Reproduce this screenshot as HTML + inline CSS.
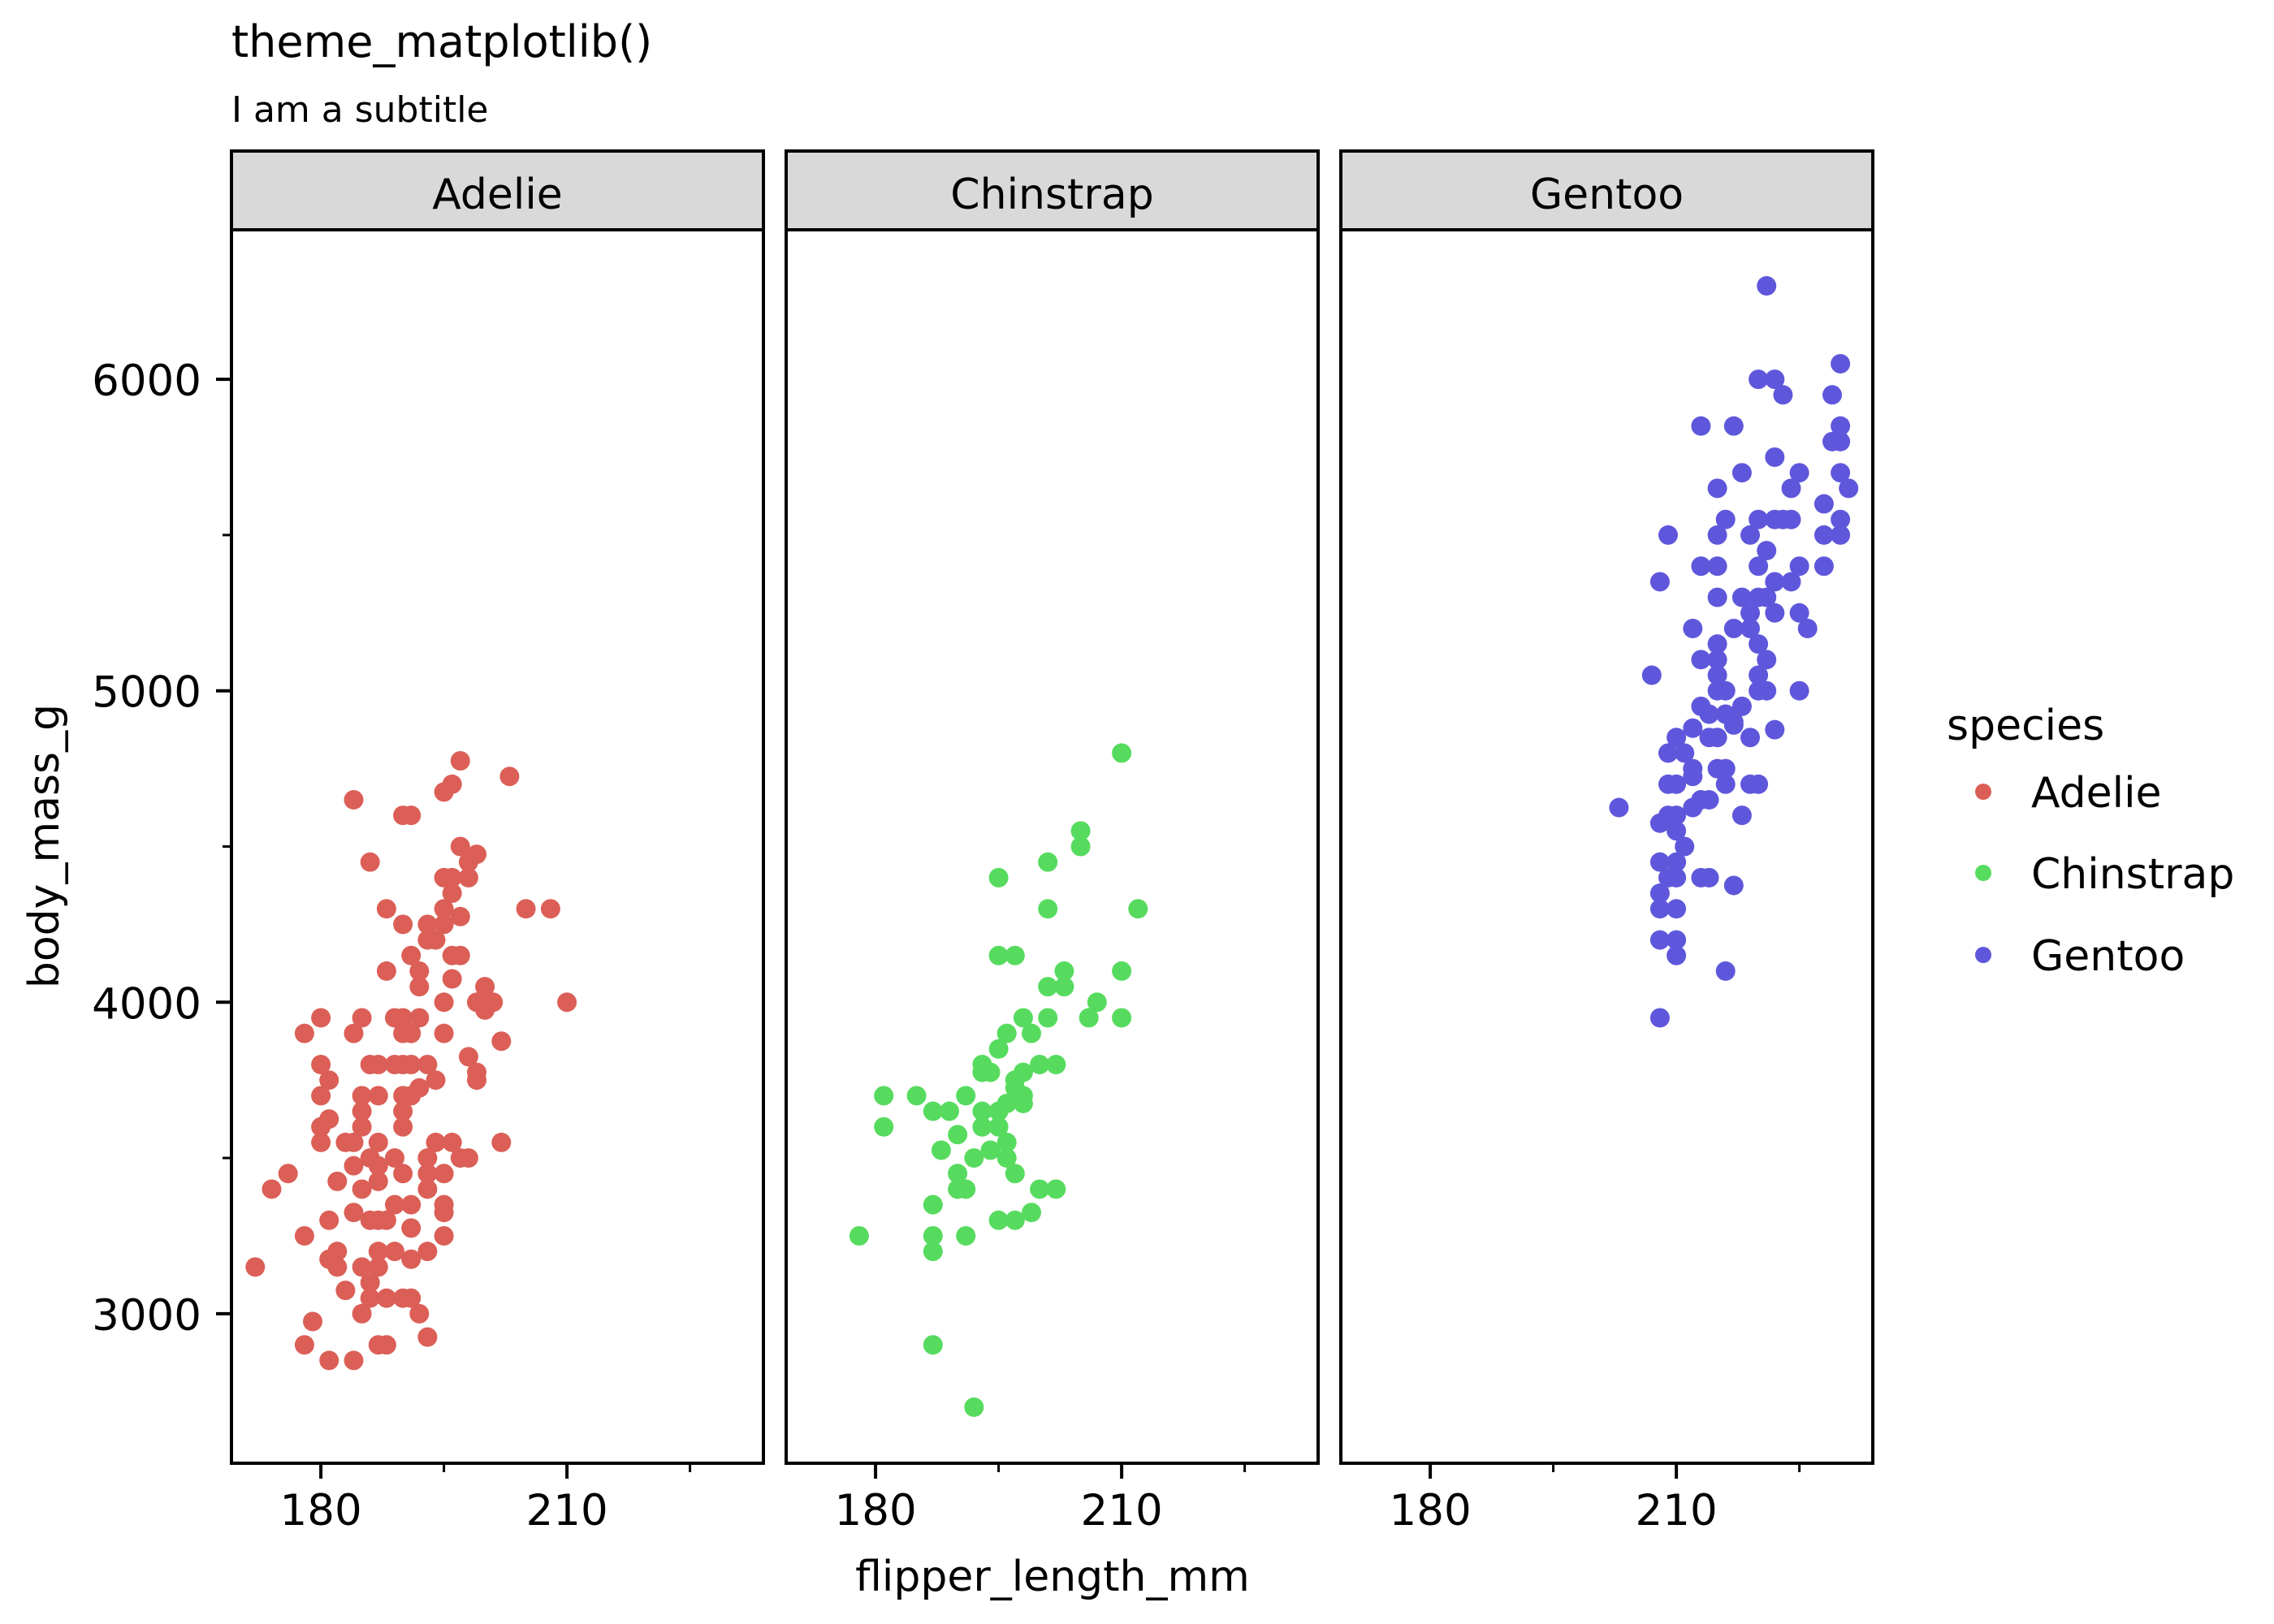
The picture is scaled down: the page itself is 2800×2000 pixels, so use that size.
<!DOCTYPE html>
<html><head><meta charset="utf-8">
<style>
html,body{margin:0;padding:0;background:#fff;}
svg{display:block;font-family:"DejaVu Sans","Liberation Sans",sans-serif;}
</style></head>
<body>
<svg id="chart" width="2800" height="2000" viewBox="0 0 2800 2000" xmlns="http://www.w3.org/2000/svg">
<rect width="2800" height="2000" fill="#fff"/>
<text x="285" y="70" font-size="54">theme_matplotlib()</text>
<text x="285" y="150" font-size="44">I am a subtitle</text>
<text transform="translate(72,1042) rotate(-90)" text-anchor="middle" font-size="52">body_mass_g</text>
<text x="1296" y="1959" text-anchor="middle" font-size="52">flipper_length_mm</text>
<g id="panels"></g>
<g>
<text x="2397" y="911" font-size="52">species</text>
<circle cx="2442" cy="975" r="10" fill="#db5f57"/>
<text x="2501" y="994" font-size="52">Adelie</text>
<circle cx="2442" cy="1075" r="10" fill="#57db5f"/>
<text x="2501" y="1094" font-size="52">Chinstrap</text>
<circle cx="2442" cy="1176" r="10" fill="#5f57db"/>
<text x="2501" y="1195" font-size="52">Gentoo</text>
</g>
</svg>
<script>
const speciesNames = ["Adelie","Chinstrap","Gentoo"];
const speciesColors = ["#db5f57","#57db5f","#5f57db"];
const xTicks = [180, 210];
const xMinorTicks = [195, 225];
const yTicks = [3000, 4000, 5000, 6000];
const yMinorTicks = [3500, 4500, 5500];
const adelieFlipper = [197,203,196,195,184,190,191,197,199,198,186,195,196,198,196,195,188,205,208,197,190,193,195,193,194,191,196,197,188,192,196,192,200,195,199,200,201,210,200,180,185,189,190,192,178,184,190,191,195,202,198,180,186,187,189,190,191,193,199,181,194,199,180,185,187,190,191,192,185,190,181,180,185,190,180,183,184,187,194,196,202,189,186,193,197,198,184,187,176,190,193,195,174,182,185,187,193,189,191,195,184,195,181,186,187,188,191,178,195,182,187,189,193,172,181,182,185,187,191,186,183,186,188,190,191,185,192,179,178,187,188,193,181,184];
const adelieMass = [4775,4725,4700,4675,4650,4600,4600,4500,4475,4450,4450,4400,4400,4400,4350,4300,4300,4300,4300,4275,4250,4250,4250,4200,4200,4150,4150,4150,4100,4100,4075,4050,4050,4000,4000,4000,4000,4000,3975,3950,3950,3950,3950,3950,3900,3900,3900,3900,3900,3875,3825,3800,3800,3800,3800,3800,3800,3800,3775,3750,3750,3750,3700,3700,3700,3700,3700,3725,3650,3650,3625,3600,3600,3600,3550,3550,3550,3550,3550,3550,3550,3500,3500,3500,3500,3500,3475,3475,3450,3450,3450,3450,3400,3425,3400,3425,3400,3350,3350,3350,3325,3325,3300,3300,3300,3300,3275,3250,3250,3200,3200,3200,3200,3150,3175,3150,3150,3150,3175,3100,3075,3050,3050,3050,3050,3000,3000,2975,2900,2900,2900,2925,2850,2850];
const chinstrapFlipper = [210,205,205,201,195,201,212,195,197,203,210,201,203,207,198,201,206,210,196,199,195,193,200,202,193,194,198,197,197,198,198,196,181,185,191,187,189,193,195,181,193,195,190,196,188,194,192,196,190,197,190,191,200,202,187,195,197,199,178,187,191,187,187,192];
const chinstrapMass = [4800,4550,4500,4450,4400,4300,4300,4150,4150,4100,4100,4050,4050,4000,3950,3950,3950,3950,3900,3900,3850,3800,3800,3800,3775,3775,3775,3750,3725,3700,3675,3675,3700,3700,3700,3650,3650,3650,3650,3600,3600,3600,3575,3550,3525,3525,3500,3500,3450,3450,3400,3400,3400,3400,3350,3300,3300,3325,3250,3250,3250,3200,2900,2700];
const gentooFlipper = [221,230,220,222,223,229,213,217,230,229,230,222,218,225,230,215,224,231,228,216,220,222,223,224,230,209,215,219,228,230,221,213,215,220,225,228,208,222,224,215,218,220,221,219,222,225,226,212,217,219,215,220,213,215,221,207,215,220,215,216,220,221,225,213,214,218,216,217,217,212,210,214,215,219,222,209,211,212,215,216,212,209,210,216,219,220,213,214,212,203,209,210,218,208,210,211,208,210,209,210,213,214,217,208,208,210,208,210,210,216,208];
const gentooMass = [6300,6050,6000,6000,5950,5950,5850,5850,5850,5800,5800,5750,5700,5700,5700,5650,5650,5650,5600,5550,5550,5550,5550,5550,5550,5500,5500,5500,5500,5500,5450,5400,5400,5400,5400,5400,5350,5350,5350,5300,5300,5300,5300,5250,5250,5250,5200,5200,5200,5200,5150,5150,5100,5100,5100,5050,5050,5050,5000,5000,5000,5000,5000,4950,4925,4950,4925,4900,4890,4880,4850,4850,4850,4850,4875,4800,4800,4750,4750,4750,4725,4700,4700,4700,4700,4700,4650,4650,4625,4625,4600,4600,4600,4575,4550,4500,4450,4450,4400,4400,4400,4400,4375,4350,4300,4300,4200,4200,4150,4100,3950];

const NS = "http://www.w3.org/2000/svg";
const panelX0 = [285, 968, 1651];
const panelW = 655, panelTop = 283, panelBottom = 1802, stripTop = 186;
const xMin = 169.1, xMax = 233.95, yMin = 2520, yMax = 6480;
function xScale(p, v){ return panelX0[p] + (v - xMin) / (xMax - xMin) * panelW; }
function yScale(v){ return panelBottom - (v - yMin) / (yMax - yMin) * (panelBottom - panelTop); }
function mk(tag, attrs, parent){
  const e = document.createElementNS(NS, tag);
  for (const k in attrs) e.setAttribute(k, attrs[k]);
  parent.appendChild(e);
  return e;
}
const root = document.getElementById("panels");
const seriesX = [adelieFlipper, chinstrapFlipper, gentooFlipper];
const seriesY = [adelieMass, chinstrapMass, gentooMass];

for (let p = 0; p < 3; p++) {
  const g = mk("g", {}, root);
  
  
  const x0 = panelX0[p];
  const strip = mk("rect", {x: x0, y: stripTop, width: panelW, height: panelTop - stripTop, fill: "#d9d9d9", stroke: "#000", "stroke-width": 4}, g);
  
  
  const st = mk("text", {x: x0 + panelW / 2, y: 257, "text-anchor": "middle", "font-size": 52}, g);
  st.textContent = speciesNames[p];
  
  
  const frame = mk("rect", {x: x0, y: panelTop, width: panelW, height: panelBottom - panelTop, fill: "none", stroke: "#000", "stroke-width": 4}, g);
  
  
  // x ticks
  xTicks.forEach(t => {
    const x = xScale(p, t);
    const l = mk("line", {x1: x, x2: x, y1: panelBottom, y2: panelBottom + 19, stroke: "#000", "stroke-width": 4}, g);
    
    
    const tx = mk("text", {x: x, y: 1878, "text-anchor": "middle", "font-size": 53}, g);
    tx.textContent = t;
    
    
  });
  xMinorTicks.forEach(t => {
    const x = xScale(p, t);
    const l = mk("line", {x1: x, x2: x, y1: panelBottom, y2: panelBottom + 11, stroke: "#000", "stroke-width": 3}, g);
    
    
  });
  // points
  const xs = seriesX[p], ys = seriesY[p];
  for (let i = 0; i < xs.length; i++) {
    const c = mk("circle", {cx: xScale(p, xs[i]), cy: yScale(ys[i]), r: 12, fill: speciesColors[p]}, g);
    
    
  }
}
// y axis
const ya = mk("g", {}, root);


yTicks.forEach(t => {
  const y = yScale(t);
  const l = mk("line", {x1: panelX0[0] - 19, x2: panelX0[0], y1: y, y2: y, stroke: "#000", "stroke-width": 4}, ya);
  
  
  const tx = mk("text", {x: 248, y: y + 20, "text-anchor": "end", "font-size": 53}, ya);
  tx.textContent = t;
  
  
});
yMinorTicks.forEach(t => {
  const y = yScale(t);
  const l = mk("line", {x1: panelX0[0] - 11, x2: panelX0[0], y1: y, y2: y, stroke: "#000", "stroke-width": 3}, ya);
  
  
});
</script>
</body></html>
